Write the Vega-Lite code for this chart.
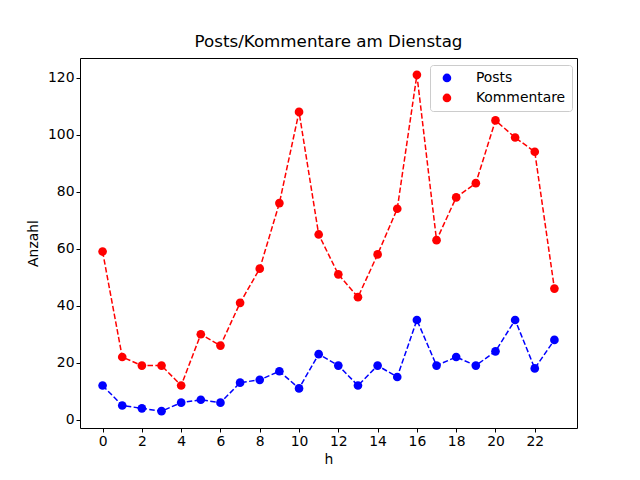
{
  "$schema": "https://vega.github.io/schema/vega-lite/v6.json",
  "width": 497,
  "height": 370,
  "autosize": {"type": "none"},
  "padding": {"left": 80, "top": 58, "right": 63, "bottom": 52},
  "background": "white",
  "config": {
    "font": "DejaVu Sans",
    "view": {"stroke": "black", "strokeWidth": 1},
    "axis": {
      "grid": false,
      "domain": false,
      "tickColor": "black",
      "tickSize": 4,
      "labelFontSize": 13.9,
      "labelColor": "black",
      "titleFontSize": 13.9,
      "titleFontWeight": "normal",
      "titleColor": "black"
    }
  },
  "title": {
    "text": "Posts/Kommentare am Dienstag",
    "fontSize": 16.7,
    "fontWeight": "normal",
    "offset": 7
  },
  "data": {
    "values": [
      {"h": 0, "serie": "Posts", "anzahl": 12},
      {"h": 1, "serie": "Posts", "anzahl": 5},
      {"h": 2, "serie": "Posts", "anzahl": 4},
      {"h": 3, "serie": "Posts", "anzahl": 3},
      {"h": 4, "serie": "Posts", "anzahl": 6},
      {"h": 5, "serie": "Posts", "anzahl": 7},
      {"h": 6, "serie": "Posts", "anzahl": 6},
      {"h": 7, "serie": "Posts", "anzahl": 13},
      {"h": 8, "serie": "Posts", "anzahl": 14},
      {"h": 9, "serie": "Posts", "anzahl": 17},
      {"h": 10, "serie": "Posts", "anzahl": 11},
      {"h": 11, "serie": "Posts", "anzahl": 23},
      {"h": 12, "serie": "Posts", "anzahl": 19},
      {"h": 13, "serie": "Posts", "anzahl": 12},
      {"h": 14, "serie": "Posts", "anzahl": 19},
      {"h": 15, "serie": "Posts", "anzahl": 15},
      {"h": 16, "serie": "Posts", "anzahl": 35},
      {"h": 17, "serie": "Posts", "anzahl": 19},
      {"h": 18, "serie": "Posts", "anzahl": 22},
      {"h": 19, "serie": "Posts", "anzahl": 19},
      {"h": 20, "serie": "Posts", "anzahl": 24},
      {"h": 21, "serie": "Posts", "anzahl": 35},
      {"h": 22, "serie": "Posts", "anzahl": 18},
      {"h": 23, "serie": "Posts", "anzahl": 28},
      {"h": 0, "serie": "Kommentare", "anzahl": 59},
      {"h": 1, "serie": "Kommentare", "anzahl": 22},
      {"h": 2, "serie": "Kommentare", "anzahl": 19},
      {"h": 3, "serie": "Kommentare", "anzahl": 19},
      {"h": 4, "serie": "Kommentare", "anzahl": 12},
      {"h": 5, "serie": "Kommentare", "anzahl": 30},
      {"h": 6, "serie": "Kommentare", "anzahl": 26},
      {"h": 7, "serie": "Kommentare", "anzahl": 41},
      {"h": 8, "serie": "Kommentare", "anzahl": 53},
      {"h": 9, "serie": "Kommentare", "anzahl": 76},
      {"h": 10, "serie": "Kommentare", "anzahl": 108},
      {"h": 11, "serie": "Kommentare", "anzahl": 65},
      {"h": 12, "serie": "Kommentare", "anzahl": 51},
      {"h": 13, "serie": "Kommentare", "anzahl": 43},
      {"h": 14, "serie": "Kommentare", "anzahl": 58},
      {"h": 15, "serie": "Kommentare", "anzahl": 74},
      {"h": 16, "serie": "Kommentare", "anzahl": 121},
      {"h": 17, "serie": "Kommentare", "anzahl": 63},
      {"h": 18, "serie": "Kommentare", "anzahl": 78},
      {"h": 19, "serie": "Kommentare", "anzahl": 83},
      {"h": 20, "serie": "Kommentare", "anzahl": 105},
      {"h": 21, "serie": "Kommentare", "anzahl": 99},
      {"h": 22, "serie": "Kommentare", "anzahl": 94},
      {"h": 23, "serie": "Kommentare", "anzahl": 46}
    ]
  },
  "encoding": {
    "x": {
      "field": "h",
      "type": "quantitative",
      "title": "h",
      "scale": {"domain": [-1.15, 24.15], "nice": false, "zero": false},
      "axis": {"values": [0, 2, 4, 6, 8, 10, 12, 14, 16, 18, 20, 22], "titlePadding": 5}
    },
    "y": {
      "field": "anzahl",
      "type": "quantitative",
      "title": "Anzahl",
      "scale": {"domain": [-2.9, 126.9], "nice": false, "zero": false},
      "axis": {"values": [0, 20, 40, 60, 80, 100, 120], "titlePadding": 7}
    },
    "color": {
      "field": "serie",
      "type": "nominal",
      "title": null,
      "scale": {"domain": ["Posts", "Kommentare"], "range": ["#0000ff", "#ff0000"]},
      "legend": {
        "orient": "none",
        "legendX": 350,
        "legendY": 7,
        "labelFontSize": 13.9,
        "labelColor": "black",
        "symbolSize": 75,
        "symbolType": "circle",
        "symbolOpacity": 1,
        "symbolStrokeWidth": 0,
        "fillColor": "white",
        "strokeColor": "#cccccc",
        "cornerRadius": 3,
        "padding": 6,
        "rowPadding": 5,
        "labelOffset": 22,
        "symbolOffset": 4
      }
    }
  },
  "layer": [
    {
      "mark": {"type": "line", "strokeDash": [5.5, 2.4], "strokeWidth": 1.5}
    },
    {
      "mark": {"type": "point", "shape": "circle", "filled": true, "opacity": 1, "size": 75}
    }
  ]
}
